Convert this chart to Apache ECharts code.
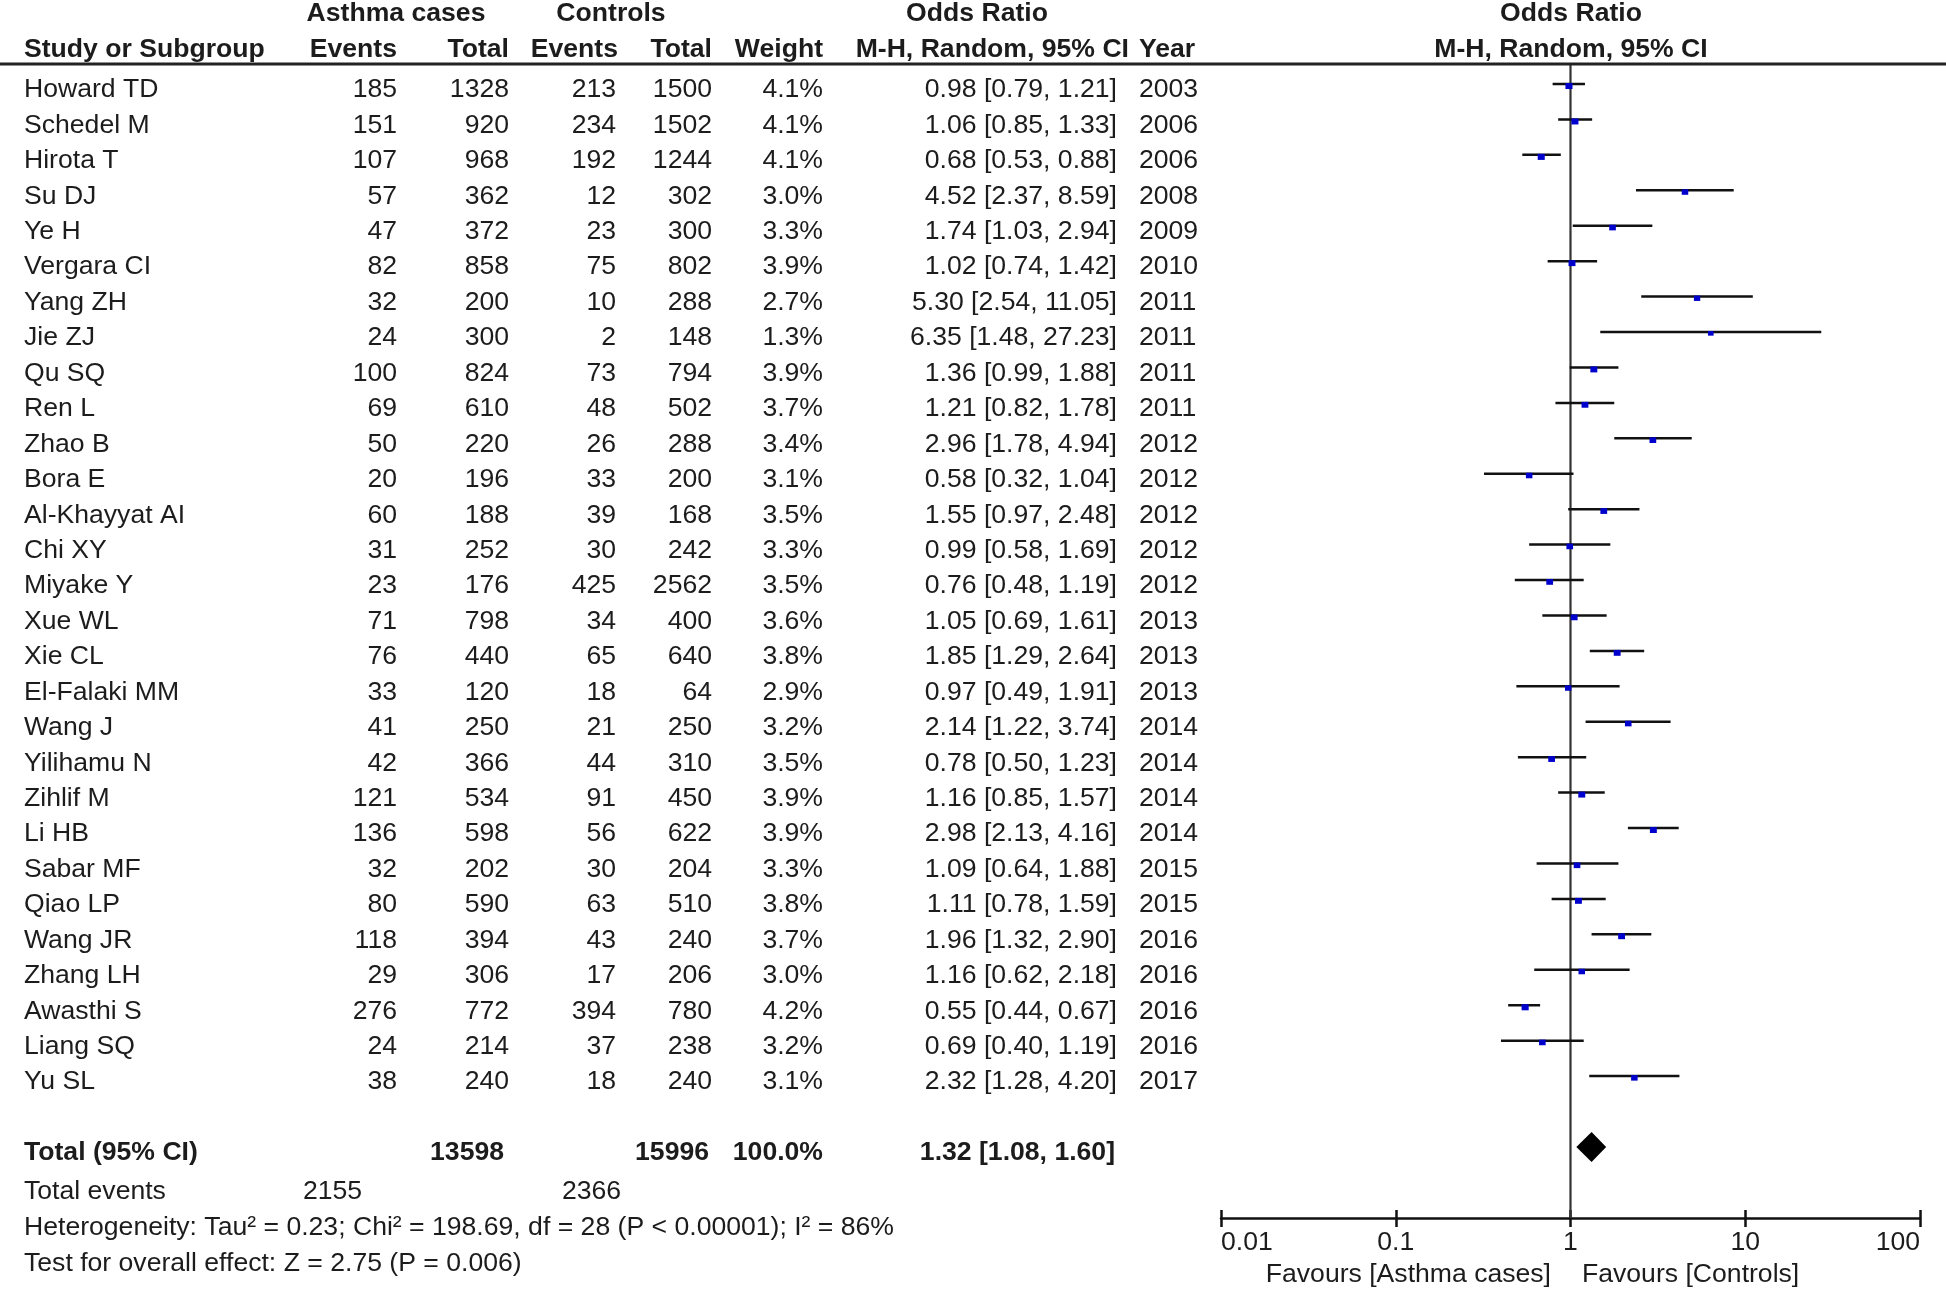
<!DOCTYPE html>
<html><head><meta charset="utf-8">
<script src="https://cdn.jsdelivr.net/npm/echarts@6/dist/echarts.min.js"></script>
<style>html,body{margin:0;padding:0;background:#fff}#c{width:1946px;height:1291px}</style>
</head><body><div id="c"></div>
<script>
const studies = ['Howard TD','Schedel M','Hirota T','Su DJ','Ye H','Vergara CI','Yang ZH','Jie ZJ','Qu SQ','Ren L','Zhao B','Bora E','Al-Khayyat AI','Chi XY','Miyake Y','Xue WL','Xie CL','El-Falaki MM','Wang J','Yilihamu N','Zihlif M','Li HB','Sabar MF','Qiao LP','Wang JR','Zhang LH','Awasthi S','Liang SQ','Yu SL'];
const caseEvents = [185,151,107,57,47,82,32,24,100,69,50,20,60,31,23,71,76,33,41,42,121,136,32,80,118,29,276,24,38];
const caseTotal = [1328,920,968,362,372,858,200,300,824,610,220,196,188,252,176,798,440,120,250,366,534,598,202,590,394,306,772,214,240];
const ctrlEvents = [213,234,192,12,23,75,10,2,73,48,26,33,39,30,425,34,65,18,21,44,91,56,30,63,43,17,394,37,18];
const ctrlTotal = [1500,1502,1244,302,300,802,288,148,794,502,288,200,168,242,2562,400,640,64,250,310,450,622,204,510,240,206,780,238,240];
const weights = [4.1,4.1,4.1,3.0,3.3,3.9,2.7,1.3,3.9,3.7,3.4,3.1,3.5,3.3,3.5,3.6,3.8,2.9,3.2,3.5,3.9,3.9,3.3,3.8,3.7,3.0,4.2,3.2,3.1];
const oddsRatio = [0.98,1.06,0.68,4.52,1.74,1.02,5.30,6.35,1.36,1.21,2.96,0.58,1.55,0.99,0.76,1.05,1.85,0.97,2.14,0.78,1.16,2.98,1.09,1.11,1.96,1.16,0.55,0.69,2.32];
const ciLow = [0.79,0.85,0.53,2.37,1.03,0.74,2.54,1.48,0.99,0.82,1.78,0.32,0.97,0.58,0.48,0.69,1.29,0.49,1.22,0.50,0.85,2.13,0.64,0.78,1.32,0.62,0.44,0.40,1.28];
const ciHigh = [1.21,1.33,0.88,8.59,2.94,1.42,11.05,27.23,1.88,1.78,4.94,1.04,2.48,1.69,1.19,1.61,2.64,1.91,3.74,1.23,1.57,4.16,1.88,1.59,2.90,2.18,0.67,1.19,4.20];
const years = [2003,2006,2006,2008,2009,2010,2011,2011,2011,2011,2012,2012,2012,2012,2012,2013,2013,2013,2014,2014,2014,2014,2015,2015,2016,2016,2016,2016,2017];
const totalOR = 1.32, totalLow = 1.08, totalHigh = 1.60;
const totalCaseTotal = 13598, totalCtrlTotal = 15996, totalWeight = '100.0%';
const totalCaseEvents = 2155, totalCtrlEvents = 2366;
const heterogeneityText = 'Heterogeneity: Tau\u00b2 = 0.23; Chi\u00b2 = 198.69, df = 28 (P < 0.00001); I\u00b2 = 86%';
const overallText = 'Test for overall effect: Z = 2.75 (P = 0.006)';
const xTicks = [0.01, 0.1, 1, 10, 100];

const FONT = '"Liberation Sans", Arial, sans-serif';
const FS = 26.6;
const COLOR = '#1c1c1c';
const TOTAL_ROW = 30;
const Y_MIN = -0.5645, Y_MAX = 32.006;
const TXT_OFF = 6;

function fmt2(v){ return v.toFixed(2); }

const ciData = studies.map((s,i)=>[ciLow[i], ciHigh[i], oddsRatio[i], i, weights[i]]);
const rowData = studies.map((s,i)=>[1, i]);

function txt(x, y, s, align, bold){
  return {type:'text', style:{x:x, y:y, text:String(s), fill:COLOR, font:(bold?'bold ':'')+FS+'px '+FONT, textAlign:align, textVerticalAlign:'middle'}};
}

const chart = echarts.init(document.getElementById('c'), null, {renderer:'canvas'});
chart.setOption({
  backgroundColor:'#fff',
  animation:false,
  grid:{left:1221, right:26, top:64, bottom:73, containLabel:false},
  xAxis:[{
    type:'log', logBase:10, min:0.01, max:100, position:'bottom',
    axisLine:{show:true, onZero:false, lineStyle:{color:'#111', width:2.5}},
    axisTick:{show:true, length:9, lineStyle:{color:'#111', width:2.5}},
    axisLabel:{show:true, color:COLOR, fontSize:FS, fontFamily:FONT, margin:11,
      alignMinLabel:'left', alignMaxLabel:'right',
      formatter:function(v){ const m = xTicks.find(t=>Math.abs(Math.log10(t)-Math.log10(v))<1e-6); return m!==undefined? String(m):''; }},
    splitLine:{show:false}
  },{
    type:'log', logBase:10, min:0.01, max:100, position:'bottom', offset:0,
    axisLine:{show:false, onZero:false},
    axisTick:{show:true, inside:true, length:8, lineStyle:{color:'#111', width:2.5}},
    axisLabel:{show:false}, splitLine:{show:false}
  }],
  yAxis:{type:'value', inverse:true, min:Y_MIN, max:Y_MAX, show:false},
  series:[
    {
      type:'line', data:[[1,Y_MIN],[1,Y_MAX]], symbol:'none', silent:true,
      lineStyle:{color:'#333', width:2.2}, z:2
    },
    {
      type:'custom', data:ciData, encode:{x:[0,1,2], y:3}, z:3, clip:false,
      renderItem:function(params, api){
        const row = api.value(3);
        const p1 = api.coord([api.value(0), row]);
        const p2 = api.coord([api.value(1), row]);
        const pc = api.coord([api.value(2), row]);
        const sz = 5 + 0.5*api.value(4);
        return {type:'group', children:[
          {type:'line', shape:{x1:p1[0], y1:p1[1], x2:p2[0], y2:p2[1]}, style:{stroke:'#111', lineWidth:2.5}},
          {type:'rect', shape:{x:pc[0]-sz/2, y:pc[1]-1, width:sz, height:sz-1}, style:{fill:'#0000cc'}}
        ]};
      }
    },
    {
      type:'custom', data:[[totalLow, totalHigh, totalOR, TOTAL_ROW]], encode:{x:[0,1,2], y:3}, z:3, clip:false,
      renderItem:function(params, api){
        const row = api.value(3);
        const pl = api.coord([api.value(0), row]);
        const ph = api.coord([api.value(1), row]);
        const pc = api.coord([api.value(2), row]);
        const h = 15;
        return {type:'polygon', shape:{points:[[pl[0],pl[1]],[pc[0],pc[1]-h],[ph[0],ph[1]],[pc[0],pc[1]+h]]}, style:{fill:'#000'}};
      }
    },
    {
      type:'custom', data:rowData, encode:{x:0, y:1}, z:4, clip:false, silent:true,
      renderItem:function(params, api){
        const i = api.value(1);
        const y = api.coord([1, i])[1] + TXT_OFF;
        return {type:'group', children:[
          txt(24, y, studies[i], 'left'),
          txt(397, y, caseEvents[i], 'right'),
          txt(509, y, caseTotal[i], 'right'),
          txt(616, y, ctrlEvents[i], 'right'),
          txt(712, y, ctrlTotal[i], 'right'),
          txt(823, y, weights[i].toFixed(1)+'%', 'right'),
          txt(1117, y, fmt2(oddsRatio[i])+' ['+fmt2(ciLow[i])+', '+fmt2(ciHigh[i])+']', 'right'),
          txt(1139, y, years[i], 'left')
        ]};
      }
    },
    {
      type:'custom', data:[[1, TOTAL_ROW]], encode:{x:0, y:1}, z:4, clip:false, silent:true,
      renderItem:function(params, api){
        const y = api.coord([1, api.value(1)])[1] + TXT_OFF;
        return {type:'group', children:[
          txt(24, y, 'Total (95% CI)', 'left', true),
          txt(504, y, totalCaseTotal, 'right', true),
          txt(709, y, totalCtrlTotal, 'right', true),
          txt(823, y, totalWeight, 'right', true),
          txt(1115, y, fmt2(totalOR)+' ['+fmt2(totalLow)+', '+fmt2(totalHigh)+']', 'right', true)
        ]};
      }
    }
  ],
  graphic:[
    {type:'line', shape:{x1:0, y1:64, x2:1946, y2:64}, style:{stroke:'#222', lineWidth:3}, z:10},
    txt(396, 14, 'Asthma cases', 'center', true),
    txt(611, 14, 'Controls', 'center', true),
    txt(977, 14, 'Odds Ratio', 'center', true),
    txt(1571, 14, 'Odds Ratio', 'center', true),
    txt(24, 49.5, 'Study or Subgroup', 'left', true),
    txt(397, 49.5, 'Events', 'right', true),
    txt(509, 49.5, 'Total', 'right', true),
    txt(618, 49.5, 'Events', 'right', true),
    txt(712, 49.5, 'Total', 'right', true),
    txt(823, 49.5, 'Weight', 'right', true),
    txt(1129, 49.5, 'M-H, Random, 95% CI', 'right', true),
    txt(1139, 49.5, 'Year', 'left', true),
    txt(1571, 49.5, 'M-H, Random, 95% CI', 'center', true),
    txt(24, 1191.5, 'Total events', 'left'),
    txt(303, 1191.5, String(totalCaseEvents), 'left'),
    txt(562, 1191.5, String(totalCtrlEvents), 'left'),
    txt(24, 1227.5, heterogeneityText, 'left'),
    txt(24, 1263.5, overallText, 'left'),
    txt(1551, 1275, 'Favours [Asthma cases]', 'right'),
    txt(1582, 1275, 'Favours [Controls]', 'left')
  ]
});
</script></body></html>
